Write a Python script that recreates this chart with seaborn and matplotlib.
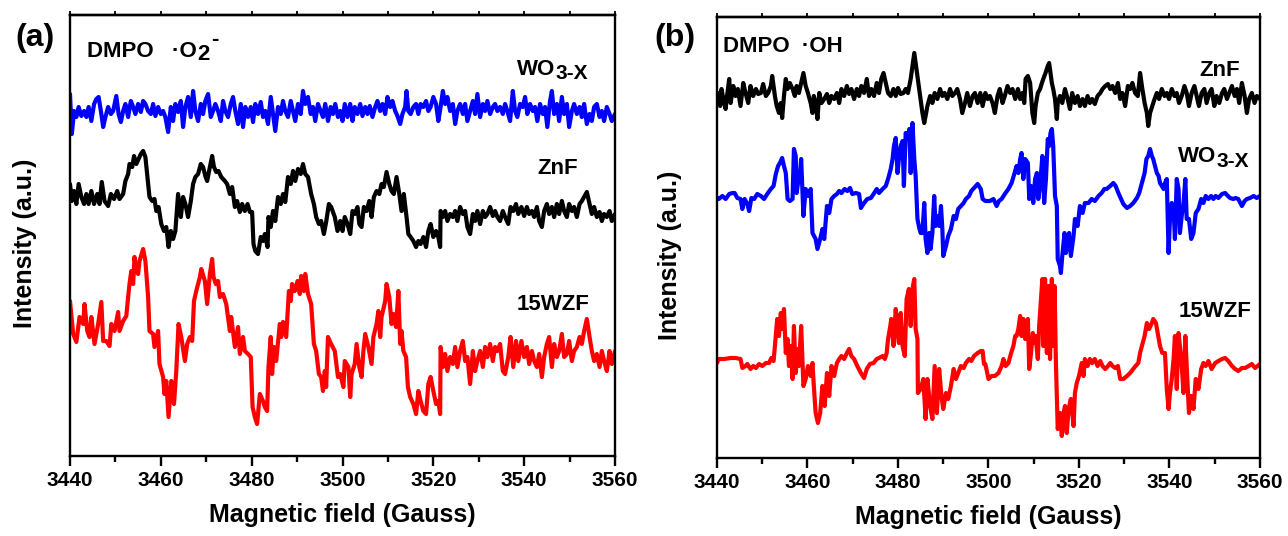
import matplotlib
matplotlib.use("Agg")
import matplotlib.pyplot as plt
import pandas as pd
import seaborn as sns

# ---------------- data: (magnetic field [G], intensity [a.u.]) ----------------
A_WO3X = [(3440.0,365),(3440.4,325),(3440.9,348),(3441.4,342),(3441.9,352),(3442.5,343),(3443.1,348),(3443.6,342),(3444.1,352),(3444.7,338),(3445.3,355),(3445.8,360),(3446.3,362),(3446.8,348),(3447.3,332),(3447.8,342),(3448.4,352),(3449.0,345),(3449.5,348),(3450.2,363),(3450.7,345),(3451.2,337),(3451.7,348),(3452.2,355),(3452.8,342),(3453.4,358),(3453.9,352),(3454.4,345),(3455.0,355),(3455.6,347),(3456.1,358),(3456.6,355),(3457.2,348),(3457.8,345),(3458.3,355),(3458.8,343),(3459.4,352),(3460.0,345),(3460.5,348),(3461.0,342),(3461.6,327),(3462.2,352),(3462.7,338),(3463.2,355),(3463.8,347),(3464.4,358),(3464.9,332),(3465.4,352),(3466.0,362),(3466.6,342),(3467.1,368),(3467.6,348),(3468.2,338),(3468.8,355),(3469.3,345),(3469.8,358),(3470.4,365),(3471.0,342),(3471.5,348),(3472.0,355),(3472.6,348),(3473.2,338),(3473.7,358),(3474.2,348),(3474.8,342),(3475.4,355),(3475.9,362),(3476.4,348),(3477.0,335),(3477.6,355),(3478.1,332),(3478.6,352),(3479.2,342),(3479.8,352),(3480.3,337),(3480.8,355),(3481.4,345),(3482.0,357),(3482.5,342),(3483.0,348),(3483.6,335),(3484.2,362),(3484.7,345),(3485.2,328),(3485.8,352),(3486.4,345),(3486.9,358),(3487.4,348),(3488.0,342),(3488.6,358),(3489.1,348),(3489.6,338),(3490.2,355),(3490.8,345),(3491.3,368),(3491.8,355),(3492.4,362),(3493.0,345),(3493.5,352),(3494.0,338),(3494.6,355),(3495.2,348),(3495.7,342),(3496.2,355),(3496.8,338),(3497.4,352),(3497.9,345),(3498.4,355),(3499.0,342),
          (3499.5,348),(3500.0,338),(3500.5,355),(3501.1,342),(3501.7,355),(3502.2,338),(3502.7,352),(3503.3,345),(3503.9,355),(3504.4,343),(3505.0,352),(3505.5,345),(3506.0,353),(3506.6,342),(3507.2,352),(3507.7,358),(3508.3,348),(3508.8,355),(3509.4,345),(3509.9,362),(3510.5,352),(3511.0,358),(3511.6,348),(3512.1,343),(3512.7,335),(3513.2,345),(3513.8,352),(3514.1,368),(3514.5,348),(3515.0,345),(3515.6,352),(3516.2,355),(3516.7,345),(3517.2,355),(3517.8,352),(3518.4,358),(3518.9,348),(3519.4,352),(3520.0,362),(3520.6,355),(3521.1,338),(3521.6,352),(3522.1,368),(3522.6,355),(3523.1,362),(3523.7,348),(3524.3,355),(3524.8,335),(3525.3,348),(3525.9,355),(3526.5,345),(3527.0,355),(3527.5,338),(3528.1,348),(3528.7,358),(3529.2,345),(3529.7,365),(3530.3,342),(3530.9,355),(3531.4,348),(3531.9,358),(3532.5,345),(3533.1,352),(3533.6,355),(3534.1,348),(3534.7,352),(3535.3,345),(3535.8,355),(3536.3,348),(3536.9,338),(3537.5,368),(3538.0,348),(3538.5,342),(3539.1,355),(3539.7,352),(3540.2,362),(3540.7,345),(3541.3,355),(3541.9,348),(3542.4,352),(3542.9,338),(3543.5,355),(3544.1,345),(3544.6,352),(3545.1,332),(3545.7,358),(3546.1,368),(3546.6,345),(3547.2,355),(3547.7,338),(3548.3,362),(3548.8,345),(3549.4,355),(3549.9,332),(3550.5,348),(3551.0,355),(3551.6,345),(3552.2,352),(3552.7,342),(3553.2,355),(3553.8,335),(3554.4,345),(3554.9,338),(3555.4,352),(3556.0,355),(3556.6,342),(3557.1,348),(3557.6,338),(3558.2,352),(3558.8,345),(3559.3,338),(3560.0,345)]

A_ZNF = [(3440.0,275),(3440.4,258),(3440.9,268),(3441.4,255),(3441.9,275),(3442.5,262),(3443.1,255),(3443.6,265),(3444.1,255),(3444.7,268),(3445.3,255),(3446.0,265),(3446.5,255),(3447.0,277),(3447.6,258),(3448.4,253),(3449.0,265),(3449.7,260),(3450.4,268),(3450.9,260),(3451.7,265),(3452.2,278),(3452.8,285),(3453.1,295),(3453.7,292),(3454.1,303),(3454.6,295),(3455.1,300),(3455.6,305),(3456.1,308),(3456.6,302),(3457.2,275),(3457.5,262),(3458.1,258),(3458.6,260),(3459.0,248),(3459.5,252),(3460.1,235),(3460.7,228),(3461.2,232),(3461.7,212),(3462.2,228),(3462.7,220),(3463.2,228),(3463.8,265),(3464.4,242),(3464.9,262),(3465.4,255),(3466.0,242),(3466.6,258),(3467.1,275),(3467.6,282),(3468.2,285),(3468.8,295),(3469.3,292),(3469.8,283),(3470.2,278),(3470.8,292),(3471.3,303),(3471.7,292),(3472.2,287),(3472.7,288),(3473.3,282),(3474.1,278),(3474.6,275),(3475.2,265),(3475.7,272),(3476.3,252),(3476.8,258),(3477.4,247),(3477.9,255),(3478.5,248),(3479.1,255),(3479.6,247),(3480.1,247),(3480.4,215),(3480.8,208),(3481.4,205),(3482.0,222),(3482.5,218),(3482.9,225),(3483.5,212),(3483.7,242),(3484.2,232),(3484.7,248),(3485.2,238),(3485.8,262),(3486.4,255),(3486.9,265),(3487.4,257),(3488.0,282),(3488.6,275),(3489.1,288),(3489.6,278),(3490.2,290),(3490.8,285),(3491.3,295),(3491.8,285),(3492.4,282),(3493.1,265),(3493.7,255),(3494.2,242),(3494.8,235),(3495.3,238),(3495.9,225),(3496.4,237),(3497.0,255),(3497.5,252),(3498.3,242),(3498.9,228),
         (3499.5,238),(3500.0,228),(3500.5,242),(3501.1,235),(3501.7,225),(3502.2,248),(3502.7,245),(3503.3,252),(3503.7,235),(3504.2,232),(3504.7,252),(3505.3,248),(3505.9,258),(3506.4,242),(3506.9,262),(3507.5,268),(3508.1,265),(3508.6,275),(3509.1,272),(3509.7,287),(3510.3,275),(3510.8,268),(3511.3,265),(3511.9,282),(3512.5,265),(3513.0,248),(3513.5,265),(3514.1,242),(3514.5,225),(3515.0,222),(3515.6,218),(3516.2,212),(3516.7,218),(3517.2,215),(3517.8,222),(3518.4,212),(3518.9,228),(3519.4,235),(3520.0,222),(3520.6,228),(3521.1,222),(3521.5,212),(3521.6,248),(3522.1,242),(3522.6,248),(3523.1,238),(3523.7,245),(3524.3,242),(3524.8,248),(3525.3,238),(3525.9,252),(3526.5,245),(3527.0,248),(3527.5,232),(3528.1,225),(3528.7,245),(3529.2,238),(3529.7,248),(3530.3,235),(3530.9,248),(3531.4,242),(3531.9,245),(3532.5,252),(3533.1,243),(3533.6,248),(3534.1,242),(3534.7,238),(3535.3,248),(3535.8,242),(3536.5,235),(3537.0,252),(3537.6,248),(3538.2,255),(3538.7,245),(3539.4,252),(3540.0,243),(3540.6,252),(3541.1,245),(3541.7,248),(3542.2,242),(3542.8,252),(3543.3,238),(3543.9,232),(3544.4,248),(3545.0,255),(3545.5,245),(3546.1,252),(3546.6,242),(3547.2,255),(3547.7,245),(3548.3,258),(3548.8,248),(3549.4,242),(3549.9,255),(3550.5,248),(3551.0,252),(3551.6,242),(3552.2,255),(3552.7,258),(3553.2,262),(3553.8,267),(3554.4,255),(3554.9,245),(3555.4,252),(3556.0,242),(3556.6,247),(3557.1,238),(3557.6,245),(3558.2,242),(3558.8,248),(3559.3,238),(3560.0,245)]

A_15WZF = [(3440.0,158),(3440.7,125),(3441.4,117),(3442.1,142),(3442.9,135),(3443.2,155),(3443.8,128),(3444.3,122),(3444.7,142),(3445.4,115),(3446.2,135),(3446.9,157),(3447.3,118),(3448.0,118),(3448.7,113),(3449.1,135),(3449.8,128),(3450.6,147),(3450.9,128),(3451.7,138),(3452.4,143),(3452.8,162),(3453.1,175),(3453.5,188),(3453.9,175),(3454.2,202),(3454.6,188),(3455.0,185),(3455.3,198),(3456.1,210),(3456.6,198),(3457.2,162),(3457.5,128),(3458.3,125),(3458.6,112),(3459.4,128),(3459.7,95),(3460.5,82),(3460.8,65),(3461.2,78),(3461.7,42),(3462.3,78),(3462.9,55),(3463.4,88),(3463.9,135),(3464.5,122),(3465.3,98),(3465.8,115),(3466.4,122),(3466.9,118),(3467.3,158),(3467.8,168),(3468.6,182),(3468.9,190),(3469.7,178),(3470.2,155),(3470.8,185),(3471.3,200),(3471.6,182),(3472.1,175),(3472.6,178),(3473.0,162),(3473.7,165),(3474.4,155),(3475.2,128),(3475.5,142),(3476.3,112),(3477.0,132),(3477.4,105),(3478.1,122),(3478.5,108),(3479.2,105),(3479.8,102),(3480.2,52),(3480.7,42),(3481.2,35),(3481.8,65),(3482.5,58),(3482.9,52),(3483.4,48),(3483.7,92),(3484.2,122),(3484.5,85),(3484.9,112),(3485.4,98),(3486.2,135),(3486.5,122),(3486.9,137),(3487.6,122),(3488.2,168),(3488.6,158),(3488.9,175),(3489.5,168),(3490.1,178),(3490.6,165),(3490.9,183),(3491.5,168),(3491.8,185),(3492.4,165),(3493.1,155),(3493.7,115),(3494.2,108),(3494.8,85),(3495.3,82),(3495.7,68),(3496.1,88),(3496.4,72),(3496.8,122),(3497.5,115),(3498.3,108),(3499.0,82),
           (3499.5,85),(3500.2,72),(3500.5,98),(3501.3,92),(3501.7,62),(3502.0,85),(3502.7,95),(3503.1,115),(3503.7,92),(3504.2,82),(3504.6,108),(3505.0,125),(3505.7,112),(3506.4,95),(3506.8,122),(3507.5,135),(3507.9,148),(3508.3,122),(3508.6,142),(3509.4,158),(3509.7,175),(3510.3,162),(3510.8,135),(3511.2,145),(3511.8,132),(3512.3,168),(3512.7,115),(3513.0,128),(3513.4,108),(3514.0,102),(3514.4,72),(3514.9,62),(3515.6,55),(3516.2,45),(3516.7,68),(3517.2,58),(3517.8,48),(3518.4,45),(3518.9,75),(3519.4,82),(3520.0,68),(3520.6,55),(3521.1,58),(3521.5,45),(3521.6,112),(3522.1,92),(3522.6,105),(3523.1,88),(3523.7,102),(3524.3,95),(3524.8,112),(3525.3,92),(3525.9,108),(3526.5,118),(3527.0,98),(3527.5,102),(3528.1,75),(3528.7,108),(3529.2,88),(3529.7,98),(3530.3,108),(3530.9,92),(3531.4,112),(3531.9,102),(3532.5,115),(3533.1,98),(3533.6,112),(3534.1,108),(3534.7,115),(3535.3,88),(3535.8,85),(3536.5,102),(3537.0,122),(3537.6,92),(3538.2,118),(3538.7,98),(3539.4,118),(3540.0,102),(3540.6,112),(3541.1,95),(3541.7,108),(3542.2,98),(3542.8,92),(3543.3,105),(3543.9,82),(3544.4,102),(3545.0,115),(3545.5,122),(3546.1,92),(3546.6,115),(3547.2,102),(3547.7,108),(3548.3,125),(3548.8,102),(3549.4,105),(3549.9,118),(3550.5,98),(3551.0,108),(3551.6,112),(3552.2,122),(3552.7,115),(3553.2,128),(3553.8,140),(3554.4,122),(3554.9,108),(3555.4,98),(3556.0,105),(3556.6,92),(3557.1,108),(3557.6,98),(3558.2,88),(3558.8,108),(3559.3,95),(3560.0,108)]

B_ZNF = [(3440.0,358),(3440.2,368),(3440.7,355),(3441.0,372),(3441.4,362),(3441.9,352),(3442.3,368),(3442.7,382),(3443.0,358),(3443.6,375),(3444.1,365),(3444.6,372),(3445.2,355),(3445.8,378),(3446.3,368),(3446.9,358),(3447.4,375),(3448.0,365),(3448.6,372),(3449.1,367),(3449.7,368),(3450.2,377),(3450.8,365),(3451.3,368),(3451.9,375),(3452.2,385),(3452.8,365),(3453.2,355),(3453.7,348),(3454.1,358),(3454.4,343),(3454.8,365),(3455.2,382),(3455.6,372),(3456.1,378),(3456.7,372),(3457.2,365),(3457.6,375),(3458.1,368),(3458.6,378),(3459.1,388),(3459.6,375),(3460.1,368),(3460.7,358),(3461.1,348),(3461.4,365),(3461.8,358),(3462.2,342),(3462.6,368),(3463.1,358),(3463.7,362),(3464.3,367),(3464.8,358),(3465.3,365),(3465.9,362),(3466.5,368),(3467.0,358),(3467.5,372),(3468.1,365),(3468.7,375),(3469.2,367),(3469.7,372),(3470.3,362),(3470.9,372),(3471.4,365),(3471.9,375),(3472.5,368),(3473.1,382),(3473.6,365),(3474.1,372),(3474.7,365),(3475.3,378),(3475.8,368),(3476.3,382),(3476.8,388),(3477.3,378),(3477.8,368),(3478.4,365),(3479.0,372),(3479.5,365),(3480.0,373),(3480.6,367),(3481.2,368),(3481.7,372),(3482.2,368),(3482.8,382),(3483.2,395),(3483.6,408),(3483.9,398),(3484.3,385),(3484.9,365),(3485.4,348),(3485.8,338),(3486.1,345),(3486.5,355),(3487.1,365),(3487.6,358),(3488.1,368),(3488.7,362),(3489.3,372),(3489.8,365),(3490.3,368),(3490.9,362),(3491.5,372),(3492.0,365),(3492.6,368),(3493.1,372),(3493.7,362),(3494.2,348),(3494.8,358),(3495.3,368),(3495.9,355),(3496.5,365),(3497.0,368),(3497.6,358),(3498.2,368),(3498.7,355),
         (3499.3,368),(3499.8,362),(3500.3,365),(3500.9,358),(3501.4,348),(3502.0,365),(3502.5,372),(3503.1,358),(3503.6,365),(3504.2,375),(3504.8,368),(3505.3,372),(3505.9,362),(3506.5,372),(3507.0,362),(3507.5,368),(3507.9,358),(3508.2,382),(3508.7,385),(3509.2,378),(3509.7,348),(3510.1,338),(3510.4,355),(3510.9,368),(3511.4,372),(3511.8,378),(3512.1,382),(3512.6,388),(3513.1,395),(3513.4,398),(3513.7,388),(3514.0,378),(3514.3,372),(3514.7,362),(3515.1,342),(3515.3,358),(3515.8,365),(3516.3,358),(3516.9,372),(3517.5,362),(3518.0,352),(3518.5,368),(3519.1,358),(3519.7,365),(3520.2,355),(3520.8,362),(3521.3,355),(3521.9,365),(3522.4,358),(3522.9,362),(3523.5,357),(3524.1,365),(3524.7,368),(3525.2,372),(3525.8,375),(3526.4,377),(3526.9,372),(3527.4,375),(3528.0,368),(3528.6,378),(3529.1,362),(3529.6,368),(3530.2,355),(3530.8,375),(3531.3,372),(3531.8,378),(3532.4,368),(3533.0,365),(3533.5,388),(3534.0,372),(3534.5,358),(3535.0,348),(3535.3,335),(3535.7,348),(3536.2,355),(3536.7,362),(3537.2,368),(3537.7,362),(3538.3,372),(3538.9,365),(3539.4,368),(3539.9,362),(3540.5,372),(3541.1,365),(3541.6,368),(3542.1,358),(3542.7,365),(3543.3,375),(3543.8,368),(3544.3,355),(3544.9,368),(3545.5,375),(3546.0,365),(3546.5,355),(3547.1,368),(3547.7,372),(3548.2,358),(3548.8,368),(3549.3,372),(3549.9,355),(3550.4,365),(3551.0,358),(3551.6,368),(3552.1,372),(3552.7,362),(3553.2,368),(3553.8,375),(3554.4,365),(3554.9,372),(3555.4,358),(3556.0,378),(3556.6,365),(3557.1,348),(3557.6,362),(3558.2,368),(3558.8,358),(3559.3,365),(3560.0,362)]

B_WO3X = [(3440.0,263),(3440.4,262),(3441.2,265),(3441.9,262),(3442.7,267),(3443.4,268),(3443.9,268),(3444.5,263),(3445.2,262),(3445.6,252),(3446.1,262),(3446.7,257),(3447.1,250),(3447.6,263),(3448.2,262),(3448.9,267),(3449.7,265),(3450.4,262),(3451.1,267),(3451.9,272),(3452.5,275),(3453.0,287),(3453.5,295),(3453.9,298),(3454.4,303),(3454.8,295),(3455.2,288),(3455.6,262),(3456.1,260),(3456.7,262),(3457.0,312),(3457.4,305),(3457.6,268),(3457.9,278),(3458.3,285),(3458.6,302),(3459.1,245),(3459.6,272),(3460.1,265),(3460.7,272),(3461.1,228),(3461.8,222),(3462.2,212),(3462.8,222),(3463.3,232),(3463.7,222),(3464.3,255),(3464.8,248),(3465.3,262),(3465.9,265),(3466.5,267),(3467.0,270),(3467.5,268),(3468.2,272),(3468.8,270),(3469.4,273),(3469.9,267),(3470.7,268),(3471.4,267),(3471.8,253),(3472.5,258),(3473.2,262),(3474.0,263),(3474.6,267),(3475.3,272),(3475.8,268),(3476.6,272),(3477.3,275),(3477.8,282),(3478.4,292),(3478.8,302),(3479.1,315),(3479.5,323),(3479.9,288),(3480.2,302),(3480.6,315),(3481.0,320),(3481.3,275),(3481.7,328),(3482.1,322),(3482.5,332),(3482.8,288),(3483.2,338),(3483.6,302),(3483.9,285),(3484.3,242),(3484.7,233),(3485.0,228),(3485.4,228),(3485.8,258),(3486.1,222),(3486.5,208),(3486.9,228),(3487.2,212),(3487.6,228),(3488.0,265),(3488.3,235),(3488.7,245),(3489.1,235),(3489.5,255),(3489.8,232),(3490.0,205),(3490.6,215),(3491.1,225),(3491.7,232),(3492.3,245),(3492.8,242),(3493.3,252),(3493.9,255),(3494.5,258),(3495.0,262),(3495.7,265),(3496.2,270),(3496.8,273),(3497.6,277),(3498.3,272),(3498.7,262),
          (3499.3,260),(3500.3,260),(3501.1,262),(3501.8,255),(3502.3,260),(3502.9,262),(3503.6,267),(3504.4,272),(3505.1,278),(3505.7,287),(3506.2,295),(3506.6,288),(3507.0,302),(3507.3,308),(3507.7,282),(3508.1,302),(3508.7,298),(3509.0,262),(3509.4,275),(3509.9,258),(3510.3,282),(3510.7,288),(3511.0,262),(3511.4,275),(3511.9,305),(3512.3,258),(3512.7,282),(3513.1,322),(3513.4,315),(3513.7,328),(3514.0,332),(3514.3,315),(3514.7,265),(3515.1,255),(3515.3,202),(3515.8,195),(3516.0,188),(3516.3,205),(3516.8,228),(3517.1,208),(3517.5,218),(3517.8,228),(3518.2,205),(3518.8,225),(3519.1,242),(3519.7,235),(3520.2,255),(3520.8,248),(3521.3,258),(3522.1,258),(3522.8,262),(3523.5,260),(3524.3,265),(3525.0,268),(3525.6,272),(3526.1,272),(3526.9,275),(3527.6,278),(3528.1,275),(3528.7,268),(3529.3,262),(3529.8,257),(3530.6,253),(3531.3,255),(3532.0,258),(3532.8,263),(3533.3,268),(3533.9,278),(3534.5,288),(3534.9,302),(3535.3,305),(3535.7,312),(3536.1,305),(3536.4,302),(3536.8,295),(3537.2,288),(3537.6,285),(3537.9,278),(3538.3,275),(3538.7,272),(3539.0,278),(3539.4,282),(3539.8,208),(3540.1,242),(3540.5,258),(3540.9,252),(3541.2,222),(3541.6,282),(3542.0,272),(3542.3,228),(3542.7,245),(3543.1,258),(3543.5,282),(3543.8,242),(3544.3,242),(3544.8,222),(3545.3,228),(3545.8,248),(3546.4,252),(3547.0,262),(3547.5,258),(3548.0,265),(3548.6,262),(3549.2,265),(3549.7,262),(3550.2,265),(3550.8,263),(3551.6,267),(3552.3,268),(3552.9,265),(3553.4,263),(3554.1,262),(3554.6,263),(3555.2,262),(3556.0,255),(3556.6,260),(3557.1,262),(3557.8,263),(3558.6,265),(3559.3,263),(3560.0,265)]

B_15WZF = [(3440.0,98),(3440.4,102),(3441.6,102),(3443.0,103),(3444.1,103),(3445.2,102),(3445.6,93),(3446.3,95),(3446.7,97),(3447.4,92),(3448.0,95),(3448.6,93),(3449.3,97),(3450.0,95),(3450.8,98),(3451.5,98),(3452.0,103),(3452.5,100),(3452.8,115),(3453.3,142),(3453.7,125),(3454.1,148),(3454.4,132),(3454.8,152),(3455.2,108),(3455.6,122),(3455.9,95),(3456.3,115),(3456.7,82),(3457.0,135),(3457.4,88),(3457.8,112),(3458.1,95),(3458.6,135),(3459.1,75),(3459.6,82),(3460.1,95),(3460.7,85),(3461.1,98),(3461.4,75),(3461.8,48),(3462.3,38),(3462.8,48),(3463.3,75),(3463.8,55),(3464.3,88),(3464.8,65),(3465.3,95),(3465.9,85),(3466.5,98),(3467.0,102),(3467.5,105),(3468.1,102),(3468.7,108),(3469.2,112),(3469.7,105),(3470.3,102),(3471.0,95),(3471.8,88),(3472.5,83),(3473.1,92),(3473.8,97),(3474.6,98),(3475.3,102),(3475.8,103),(3476.6,105),(3477.1,102),(3477.5,108),(3477.8,122),(3478.3,135),(3478.5,142),(3479.0,115),(3479.5,152),(3479.9,128),(3480.2,118),(3480.6,148),(3481.0,115),(3481.5,105),(3481.9,162),(3482.4,172),(3482.8,135),(3483.3,175),(3483.6,182),(3483.9,132),(3484.3,122),(3484.4,68),(3485.0,72),(3485.6,82),(3486.1,42),(3486.5,82),(3487.1,55),(3487.6,42),(3488.1,95),(3488.6,48),(3489.1,92),(3489.6,65),(3490.0,52),(3490.6,68),(3491.1,62),(3491.7,75),(3492.3,92),(3492.8,82),(3493.3,88),(3493.9,95),(3494.5,93),(3495.0,98),(3495.7,102),(3496.2,100),(3496.8,105),(3497.6,108),(3498.3,110),(3498.7,110),(3499.0,97),
           (3499.3,97),(3500.0,82),(3500.7,85),(3501.4,85),(3502.2,88),(3502.9,95),(3503.3,102),(3503.8,95),(3504.4,98),(3505.0,108),(3505.5,115),(3505.9,125),(3506.2,125),(3506.6,132),(3507.0,145),(3507.3,125),(3507.7,142),(3508.1,122),(3508.7,142),(3509.0,92),(3509.4,108),(3509.8,128),(3510.1,118),(3510.4,125),(3510.9,102),(3511.2,135),(3511.6,162),(3511.9,182),(3512.1,115),(3512.5,182),(3512.9,108),(3513.2,175),(3513.6,102),(3514.0,182),(3514.3,115),(3514.6,175),(3514.9,98),(3515.3,32),(3515.8,48),(3516.2,25),(3516.6,48),(3516.9,55),(3517.3,28),(3517.7,52),(3518.2,62),(3518.8,35),(3519.1,68),(3519.5,78),(3520.0,85),(3520.6,98),(3521.0,85),(3521.3,102),(3521.9,95),(3522.4,102),(3522.9,98),(3523.5,102),(3524.1,95),(3524.7,100),(3525.2,95),(3525.8,92),(3526.4,95),(3526.9,98),(3527.4,95),(3528.0,93),(3528.6,95),(3529.1,82),(3529.8,82),(3530.6,85),(3531.3,88),(3532.0,92),(3532.5,95),(3533.1,98),(3533.5,108),(3533.9,115),(3534.5,125),(3535.0,138),(3535.5,132),(3536.1,138),(3536.4,142),(3537.0,138),(3537.4,128),(3537.9,115),(3538.4,108),(3539.0,108),(3539.4,72),(3539.8,52),(3540.1,68),(3540.5,82),(3540.9,102),(3541.2,125),(3541.6,72),(3542.0,128),(3542.6,102),(3543.1,68),(3543.5,125),(3543.8,95),(3544.3,48),(3544.8,65),(3545.3,52),(3545.8,82),(3546.4,72),(3547.0,92),(3547.5,98),(3548.0,95),(3548.6,100),(3549.3,92),(3550.1,98),(3550.8,100),(3551.6,102),(3552.3,103),(3553.0,100),(3553.8,95),(3554.5,92),(3555.2,90),(3556.0,93),(3556.7,93),(3557.5,95),(3558.2,97),(3558.9,93),(3560.0,97)]

X_TICKS = [3440, 3460, 3480, 3500, 3520, 3540, 3560]
X_MINOR = [3440, 3450, 3460, 3470, 3480, 3490, 3500, 3510, 3520, 3530, 3540, 3550, 3560]

# ---------------- style ----------------
sns.set_style("ticks")
plt.rcParams['font.family'] = ['Liberation Sans', 'DejaVu Sans']
plt.rcParams['font.weight'] = 'bold'
plt.rcParams['mathtext.fontset'] = 'custom'
plt.rcParams['mathtext.rm'] = 'Liberation Sans:bold'
plt.rcParams['mathtext.bf'] = 'Liberation Sans:bold'
plt.rcParams['axes.linewidth'] = 1.7
for key in ['text.color', 'axes.labelcolor', 'xtick.color', 'ytick.color', 'axes.edgecolor']:
    plt.rcParams[key] = 'black'

BLUE, BLACK, RED = '#0000FF', '#000000', '#FF0000'
LW = 3.0

fig = plt.figure(figsize=(12.88, 5.36), dpi=100)
axa = fig.add_axes([70/1288, 1-456/536, 545/1288, 441/536])
axb = fig.add_axes([717/1288, 1-458/536, 543/1288, 441/536])


def frame(pairs):
    return pd.DataFrame(pairs, columns=['field', 'intensity'])


def draw(ax, series):
    for pairs, color in series:
        sns.lineplot(data=frame(pairs), x='field', y='intensity', color=color,
                     linewidth=LW, ax=ax, estimator=None, sort=False, legend=False)


def decorate(ax, ylab_x, ylab_y):
    ax.set_xlim(3440, 3560)
    ax.set_ylim(3, 444)
    ax.set_xticks(X_TICKS)
    ax.set_xticks(X_MINOR, minor=True)
    ax.set_xticklabels([str(t) for t in X_TICKS], fontsize=15, fontweight='bold')
    ax.tick_params(axis='x', which='major', direction='out', length=7, width=1.7, pad=3.5, colors='black')
    ax.tick_params(axis='x', which='minor', direction='out', length=4, width=1.7, colors='black')
    ax.set_yticks([])
    ax.set_xlabel('Magnetic field (Gauss)', fontsize=18, fontweight='bold', labelpad=10, color='black')
    ax.set_ylabel('Intensity (a.u.)', fontsize=18, fontweight='bold', color='black')
    ax.yaxis.set_label_coords(ylab_x, ylab_y)
    for s in ax.spines.values():
        s.set_visible(True)
        s.set_linewidth(1.7)
        s.set_color('black')
    sec = ax.secondary_xaxis('top')
    sec.set_xticks(X_MINOR)
    sec.tick_params(axis='x', direction='out', length=3, width=1.3, labeltop=False, colors='black')


def sub_label(ax, fx, fy, main, sub, size=16):
    t = ax.text(fx, fy, main, transform=ax.transAxes, fontsize=size,
                fontweight='bold', va='baseline', ha='left', color='black')
    ax.annotate(sub, xy=(1, 0), xycoords=t, xytext=(0.5, -2.5),
                textcoords='offset points', fontsize=size - 1, fontweight='bold',
                va='bottom', ha='left', color='black')
    return t


# ---------------- panel (a) ----------------
draw(axa, [(A_WO3X, BLUE), (A_ZNF, BLACK), (A_15WZF, RED)])
decorate(axa, -0.060, 0.483)
t1 = axa.text(0.031, 0.905, 'DMPO   \u00b7O', transform=axa.transAxes, fontsize=16,
              fontweight='bold', va='baseline', ha='left')
t2 = axa.annotate('2', xy=(1, 0), xycoords=t1, xytext=(0.5, -2.5),
                  textcoords='offset points', fontsize=16, fontweight='bold',
                  va='bottom', ha='left')
axa.annotate('-', xy=(1, 1), xycoords=(t2, t1), xytext=(1, 1),
             textcoords='offset points', fontsize=16, fontweight='bold',
             va='center', ha='left')
sub_label(axa, 0.820, 0.864, 'WO', '3-X')
axa.text(0.857, 0.639, 'ZnF', transform=axa.transAxes, fontsize=16, fontweight='bold', va='baseline')
axa.text(0.820, 0.331, '15WZF', transform=axa.transAxes, fontsize=16, fontweight='bold', va='baseline')

# ---------------- panel (b) ----------------
draw(axb, [(B_ZNF, BLACK), (B_WO3X, BLUE), (B_15WZF, RED)])
decorate(axb, -0.064, 0.460)
axb.text(0.011, 0.921, 'DMPO  \u00b7OH', transform=axb.transAxes, fontsize=16,
         fontweight='bold', va='baseline', ha='left')
axb.text(0.888, 0.866, 'ZnF', transform=axb.transAxes, fontsize=16, fontweight='bold', va='baseline')
sub_label(axb, 0.849, 0.671, 'WO', '3-X')
axb.text(0.851, 0.320, '15WZF', transform=axb.transAxes, fontsize=16, fontweight='bold', va='baseline')

# panel letters
fig.text(15/1288, 1-38/536, '(a)', fontsize=23, fontweight='bold', va='center', ha='left')
fig.text(654/1288, 1-38/536, '(b)', fontsize=23, fontweight='bold', va='center', ha='left')

fig.savefig('out.png', dpi=100)
